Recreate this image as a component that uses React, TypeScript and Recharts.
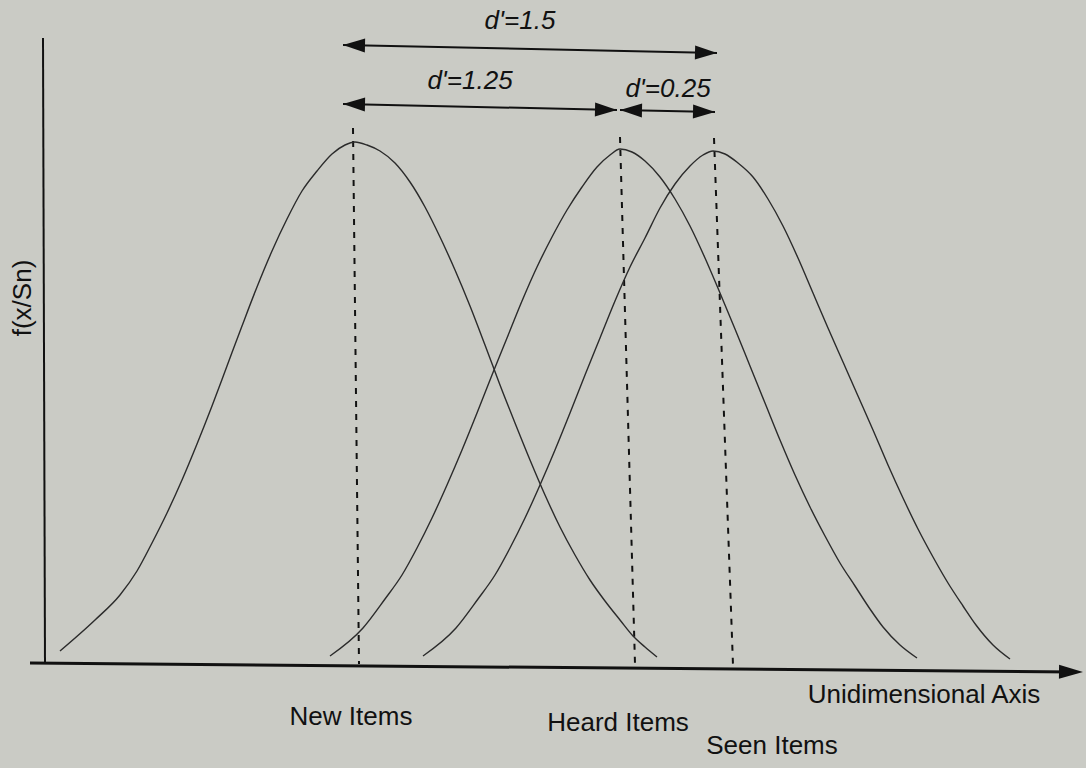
import { LineChart, Line, XAxis, YAxis, ReferenceLine, ReferenceDot } from 'recharts';

// x: distance along the unidimensional axis, y: height of f(x/Sn) above the axis
const newItems = [
    { x: 17, y: 12 }, { x: 52, y: 43 }, { x: 77, y: 68 }, { x: 94, y: 92 }, { x: 109, y: 120 },
    { x: 124, y: 150 }, { x: 139, y: 183 }, { x: 154, y: 219 }, { x: 169, y: 257 }, { x: 184, y: 297 },
    { x: 199, y: 337 }, { x: 214, y: 376 }, { x: 229, y: 412 }, { x: 244, y: 444 }, { x: 259, y: 472 },
    { x: 274, y: 492 }, { x: 289, y: 509 }, { x: 302, y: 518 }, { x: 312, y: 521 }, { x: 324, y: 518 },
    { x: 337, y: 512 }, { x: 352, y: 500 }, { x: 367, y: 481 }, { x: 382, y: 456 }, { x: 397, y: 426 },
    { x: 412, y: 393 }, { x: 427, y: 357 }, { x: 442, y: 318 }, { x: 457, y: 278 }, { x: 472, y: 240 },
    { x: 487, y: 203 }, { x: 502, y: 168 }, { x: 517, y: 136 }, { x: 532, y: 108 }, { x: 547, y: 83 },
    { x: 562, y: 62 }, { x: 577, y: 43 }, { x: 590, y: 27 }, { x: 602, y: 16 }, { x: 614, y: 6 },
];

const heardItems = [
    { x: 287, y: 7 }, { x: 320, y: 35 }, { x: 342, y: 64 }, { x: 359, y: 88 }, { x: 374, y: 115 },
    { x: 389, y: 145 }, { x: 404, y: 178 }, { x: 419, y: 213 }, { x: 434, y: 250 }, { x: 449, y: 288 },
    { x: 464, y: 325 }, { x: 479, y: 362 }, { x: 494, y: 396 }, { x: 509, y: 426 }, { x: 524, y: 453 },
    { x: 539, y: 476 }, { x: 554, y: 496 }, { x: 567, y: 508 }, { x: 577, y: 514 }, { x: 589, y: 511 },
    { x: 602, y: 502 }, { x: 617, y: 486 }, { x: 632, y: 464 }, { x: 647, y: 437 }, { x: 662, y: 405 },
    { x: 677, y: 370 }, { x: 692, y: 334 }, { x: 707, y: 297 }, { x: 722, y: 260 }, { x: 737, y: 223 },
    { x: 752, y: 188 }, { x: 767, y: 156 }, { x: 782, y: 127 }, { x: 797, y: 100 }, { x: 812, y: 77 },
    { x: 827, y: 54 }, { x: 840, y: 36 }, { x: 857, y: 18 }, { x: 874, y: 5 },
];

const seenItems = [
    { x: 380, y: 7 }, { x: 413, y: 35 }, { x: 435, y: 64 }, { x: 452, y: 88 }, { x: 467, y: 115 },
    { x: 482, y: 145 }, { x: 497, y: 178 }, { x: 512, y: 213 }, { x: 527, y: 250 }, { x: 542, y: 288 },
    { x: 557, y: 325 }, { x: 572, y: 362 }, { x: 587, y: 396 }, { x: 602, y: 425 }, { x: 617, y: 455 },
    { x: 632, y: 479 }, { x: 647, y: 497 }, { x: 660, y: 508 }, { x: 670, y: 512 }, { x: 682, y: 509 },
    { x: 695, y: 500 }, { x: 710, y: 486 }, { x: 725, y: 464 }, { x: 740, y: 437 }, { x: 755, y: 405 },
    { x: 770, y: 370 }, { x: 785, y: 335 }, { x: 800, y: 301 }, { x: 815, y: 267 }, { x: 830, y: 233 },
    { x: 845, y: 198 }, { x: 860, y: 165 }, { x: 875, y: 134 }, { x: 890, y: 106 }, { x: 905, y: 80 },
    { x: 920, y: 57 }, { x: 933, y: 38 }, { x: 950, y: 18 }, { x: 967, y: 4 },
];

// means of the three distributions (dashed lines), top and bottom ends
const meanLines = [
    [{ x: 310, y: 535 }, { x: 316, y: -1 }],
    [{ x: 577, y: 526 }, { x: 592, y: -1 }],
    [{ x: 671, y: 525 }, { x: 690, y: -2 }],
];

// d' spans between means
const dPrimeLabels = ["d'=1.5", "d'=1.25", "d'=0.25"];
const dPrimeSpans = [
    [{ x: 300, y: 618 }, { x: 674, y: 610 }],
    [{ x: 300, y: 559 }, { x: 574, y: 553 }],
    [{ x: 577, y: 553 }, { x: 672, y: 551 }],
];

const categoryLabels = ['New Items', 'Heard Items', 'Seen Items'];
const axisTitles = ['Unidimensional Axis', 'f(x/Sn)'];

const BG = '#cacbc5';
const INK = '#111';
const CURVE = '#2b2b2b';
const FONT = 'Liberation Sans, Arial, Helvetica, sans-serif';

// where the texts sit (chart units)
const dPrimeLabelPos = [{ x: 477, y: 634 }, { x: 427, y: 574 }, { x: 625, y: 566 }];
const categoryLabelPos = [{ x: 308, y: -62 }, { x: 575, y: -68 }, { x: 729, y: -91 }];

function arrowHead(tx: number, ty: number, fx: number, fy: number, len = 22, half = 7) {
    const dx = tx - fx;
    const dy = ty - fy;
    const d = Math.hypot(dx, dy) || 1;
    const ux = dx / d;
    const uy = dy / d;
    const bx = tx - ux * len;
    const by = ty - uy * len;
    return `${tx},${ty} ${bx - uy * half},${by + ux * half} ${bx + uy * half},${by - ux * half}`;
}

const doubleArrow = (p: any) => (
    <g>
        <line x1={p.x1} y1={p.y1} x2={p.x2} y2={p.y2} stroke={INK} strokeWidth={2} />
        <polygon points={arrowHead(p.x1, p.y1, p.x2, p.y2)} fill={INK} />
        <polygon points={arrowHead(p.x2, p.y2, p.x1, p.y1)} fill={INK} />
    </g>
);

const axisArrow = (p: any) => (
    <g>
        <line x1={p.x1} y1={p.y1} x2={p.x2 - 10} y2={p.y2} stroke={INK} strokeWidth={3} />
        <polygon points={arrowHead(p.x2, p.y2, p.x1, p.y1, 24, 7)} fill={INK} />
    </g>
);

const textShape = (label: string, opts: { italic?: boolean; rotate?: boolean } = {}) =>
    (p: any) => (
        <text
            x={p.cx}
            y={p.cy}
            textAnchor="middle"
            fontFamily={FONT}
            fontSize={26}
            fontStyle={opts.italic ? 'italic' : 'normal'}
            fill={INK}
            transform={opts.rotate ? `rotate(-90 ${p.cx} ${p.cy})` : undefined}
        >
            {label}
        </text>
    );

export default function App() {
    return (
        <div style={{ position: 'absolute', left: 0, top: 0, width: 1086, height: 768, background: BG }}>
            <LineChart width={1086} height={768} margin={{ top: 0, right: 0, bottom: 0, left: 0 }}>
                <XAxis type="number" dataKey="x" domain={[-43, 1043]} hide allowDataOverflow />
                <YAxis type="number" dataKey="y" domain={[-105, 663]} hide allowDataOverflow />

                {/* axes */}
                <ReferenceLine segment={[{ x: 0, y: 625 }, { x: 2, y: 0 }]} stroke={INK} strokeWidth={2} ifOverflow="visible" />
                <ReferenceLine segment={[{ x: -13, y: 0 }, { x: 1040, y: -9 }]} shape={axisArrow} ifOverflow="visible" />

                {meanLines.map((seg, i) => (
                    <ReferenceLine
                        key={'m' + i}
                        segment={seg}
                        stroke={INK}
                        strokeWidth={2}
                        strokeDasharray="6 7"
                        ifOverflow="visible"
                    />
                ))}

                {dPrimeSpans.map((seg, i) => (
                    <ReferenceLine key={'d' + i} segment={seg} shape={doubleArrow} ifOverflow="visible" />
                ))}

                <Line data={newItems} dataKey="y" type="monotone" stroke={CURVE} strokeWidth={1.4} dot={false} activeDot={false} isAnimationActive={false} />
                <Line data={heardItems} dataKey="y" type="monotone" stroke={CURVE} strokeWidth={1.4} dot={false} activeDot={false} isAnimationActive={false} />
                <Line data={seenItems} dataKey="y" type="monotone" stroke={CURVE} strokeWidth={1.4} dot={false} activeDot={false} isAnimationActive={false} />

                {dPrimeLabels.map((t, i) => (
                    <ReferenceDot key={'dl' + i} x={dPrimeLabelPos[i].x} y={dPrimeLabelPos[i].y} r={1} ifOverflow="visible" shape={textShape(t, { italic: true })} />
                ))}
                {categoryLabels.map((t, i) => (
                    <ReferenceDot key={'cl' + i} x={categoryLabelPos[i].x} y={categoryLabelPos[i].y} r={1} ifOverflow="visible" shape={textShape(t)} />
                ))}
                <ReferenceDot x={881} y={-40} r={1} ifOverflow="visible" shape={textShape(axisTitles[0])} />
                <ReferenceDot x={-12} y={365} r={1} ifOverflow="visible" shape={textShape(axisTitles[1], { rotate: true })} />
            </LineChart>
        </div>
    );
}
